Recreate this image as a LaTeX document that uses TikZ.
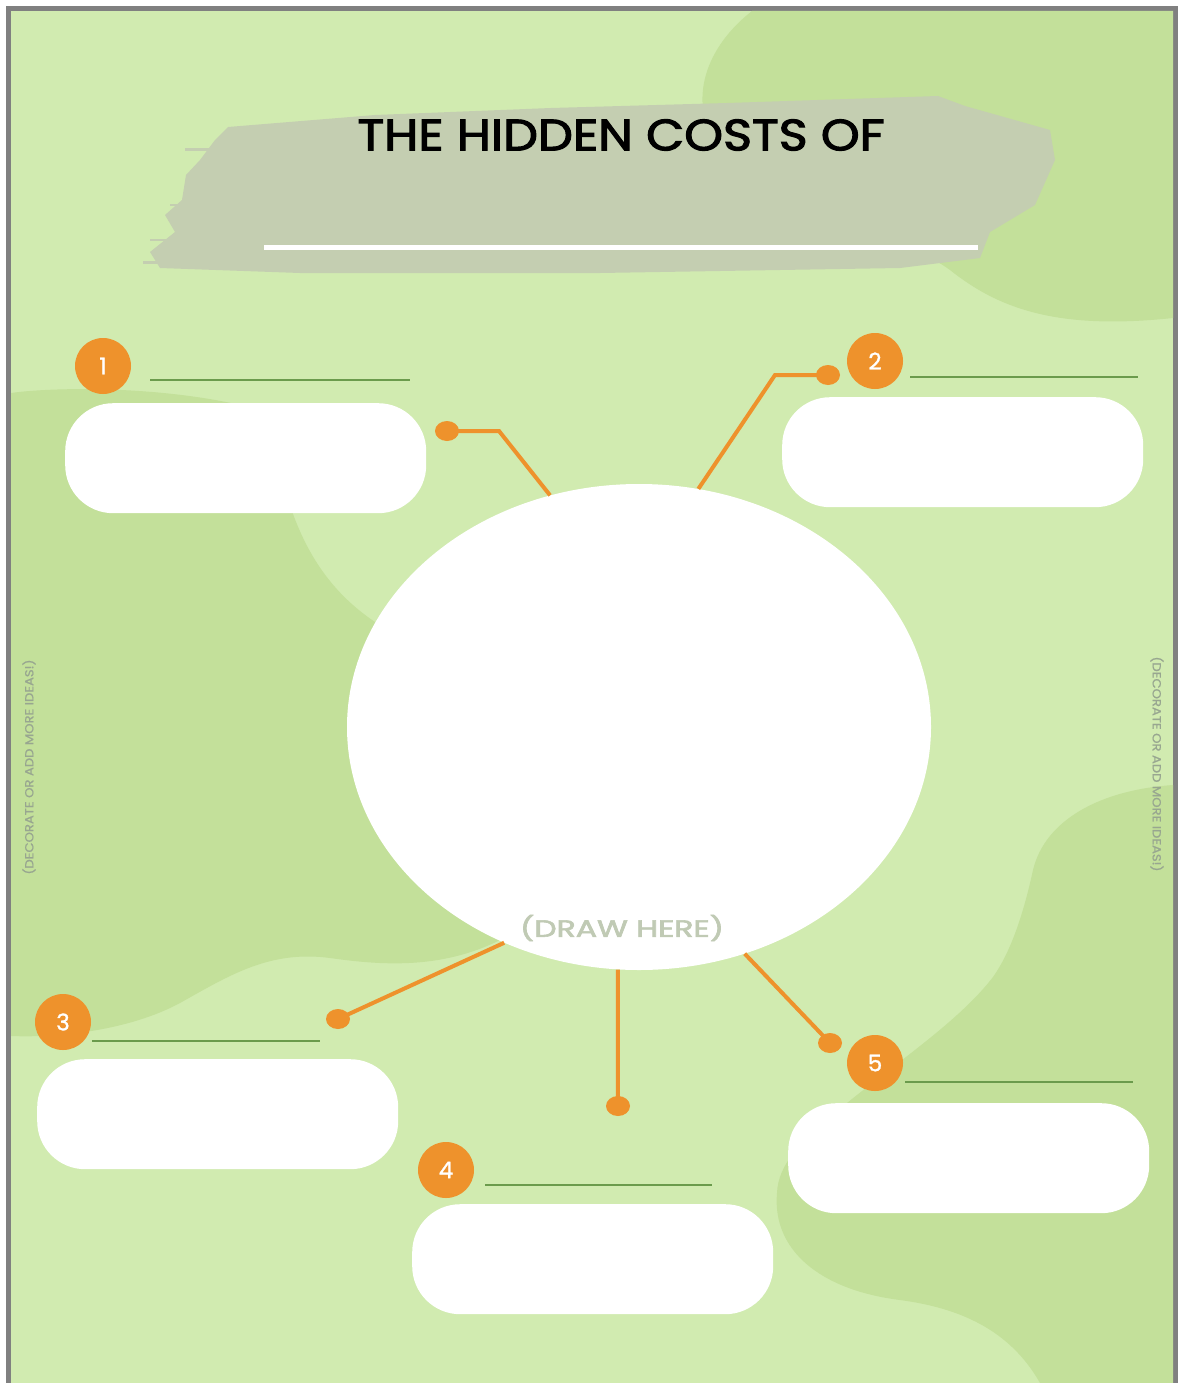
\documentclass[tikz,border=0pt]{standalone}
\usepackage{fontspec}
\setmainfont{Poppins}
\newfontfamily\medfont{Poppins}[FakeBold=1.2]
\newfontfamily\semifont{Poppins}[FakeBold=2.4]
\newfontfamily\sidefont{Poppins}[FakeBold=0.8]
\usepackage{graphicx}
\usetikzlibrary{shapes.geometric}
\definecolor{bgl}{HTML}{D1EBB0}
\definecolor{bgd}{HTML}{C3E09A}
\definecolor{brushc}{HTML}{C4CEB1}
\definecolor{orng}{HTML}{EE922C}
\definecolor{ulin}{HTML}{6B9B4C}
\definecolor{frm}{HTML}{808080}
\definecolor{sidet}{HTML}{98A690}
\definecolor{drawt}{HTML}{C0CAB4}
\begin{document}
\begin{tikzpicture}[x=1pt,y=-1pt,
  answerbox/.style={fill=white, rounded corners=48pt, minimum width=361pt, minimum height=110pt, inner sep=0pt, anchor=north west},
  numc/.style={circle, fill=orng, minimum size=56pt, inner sep=0pt, text=white, font=\fontsize{23}{23}\selectfont\medfont},
  dotn/.style={ellipse, fill=orng, minimum width=24pt, minimum height=20pt, inner sep=0pt},
  conn/.style={draw=orng, line width=4pt},
  uline/.style={draw=ulin, line width=2.5pt},
  sidetext/.style={text=sidet, inner sep=0pt}]
\useasboundingbox (0,0) rectangle (1179,1383);
\fill[white] (0,0) rectangle (1179,1383);
\fill[frm] (6,6) rectangle (1178,1383);
\fill[bgl] (11,11) rectangle (1173,1383);
\begin{scope}
\clip (11,11) rectangle (1173,1383);
% top right blob
\fill[bgd] (752,11) .. controls (715,40) and (695,80) .. (705,120)
  .. controls (720,190) and (880,220) .. (950,270)
  .. controls (1000,310) and (1060,330) .. (1173,318) -- (1173,11) -- cycle;
% left blob
\fill[bgd] (11,393) .. controls (60,386) and (200,385) .. (290,420) -- (293,514)
  .. controls (310,560) and (335,595) .. (375,622) -- (500,940)
  .. controls (440,970) and (380,965) .. (330,958)
  .. controls (270,950) and (230,975) .. (180,1003)
  .. controls (130,1030) and (60,1038) .. (11,1036) -- cycle;
% bottom right blob
\fill[bgd] (1173,785) .. controls (1100,790) and (1045,820) .. (1033,870)
  .. controls (1020,930) and (1005,960) .. (993,977)
  .. controls (960,1020) and (900,1060) .. (847,1103)
  .. controls (800,1140) and (778,1165) .. (777,1193)
  .. controls (772,1250) and (820,1290) .. (900,1300)
  .. controls (960,1308) and (1010,1330) .. (1040,1383) -- (1173,1383) -- cycle;
\end{scope}
% brush stroke
\fill[brushc] (228,127) -- (375,115) -- (551,108) -- (727,103) -- (938,96) -- (965,106)
  -- (1050,130) -- (1055,160) -- (1035,205) -- (990,232) -- (980,258) -- (900,268)
  -- (600,273) -- (300,273) -- (160,268) -- (150,252) -- (175,232) -- (165,215)
  -- (182,200) -- (186,175) -- (200,160) -- (215,140) -- cycle;
\draw[brushc, line width=3pt] (143,262) -- (260,262);
\draw[brushc, line width=2pt] (150,240) -- (240,240);
\draw[brushc, line width=2pt] (170,205) -- (250,205);
\draw[brushc, line width=3pt] (185,150) -- (260,150);
\draw[white, line width=5pt] (264,247) -- (978,247);
\node[inner sep=0pt] (title) at (621,135) {\resizebox{527pt}{31pt}{\semifont THE HIDDEN COSTS OF}};
% side texts
\node[sidetext, rotate=90] (sideL) at (29,767) {\resizebox{215pt}{11pt}{\sidefont (DECORATE OR ADD MORE IDEAS!)}};
\node[sidetext, rotate=-90] (sideR) at (1157,764) {\resizebox{215pt}{11pt}{\sidefont (DECORATE OR ADD MORE IDEAS!)}};
% central ellipse
\node[ellipse, fill=white, minimum width=584pt, minimum height=486pt, inner sep=0pt] (centre) at (639,727) {};
\node[text=drawt, inner sep=0pt] (drawhere) at (622,928) {\resizebox{204pt}{22pt}{\semifont (DRAW HERE)}};
% answer boxes
\node[answerbox] (box1) at (65,403) {};
\node[answerbox] (box2) at (782,397) {};
\node[answerbox] (box3) at (37,1059) {};
\node[answerbox] (box4) at (412,1204) {};
\node[answerbox] (box5) at (788,1103) {};
% number circles
\node[numc] (n1) at (103,366) {1};
\node[numc] (n2) at (875,361) {2};
\node[numc] (n3) at (63,1022) {3};
\node[numc] (n4) at (446,1170) {4};
\node[numc] (n5) at (875,1063) {5};
% underlines
\draw[uline] (150,380) -- (410,380);
\draw[uline] (910,377) -- (1138,377);
\draw[uline] (92,1041) -- (320,1041);
\draw[uline] (485,1185) -- (712,1185);
\draw[uline] (905,1082) -- (1133,1082);
% connectors
\coordinate (b1) at (499,431);
\coordinate (b2) at (775,375);
\node[dotn] (d1) at (447,431) {};
\node[dotn] (d2) at (828,375) {};
\node[dotn] (d3) at (338,1019) {};
\node[dotn] (d4) at (618,1106) {};
\node[dotn] (d5) at (830,1043) {};
\draw[conn] (d1.center) -- (b1) -- (centre.111.5);
\draw[conn] (d2.center) -- (b2) -- (centre.76.8);
\draw[conn] (d3.center) -- (centre.-122.4);
\draw[conn] (d4.center) -- (centre.-95.6);
\draw[conn] (d5.center) -- (centre.-65.1);
\end{tikzpicture}
\end{document}
